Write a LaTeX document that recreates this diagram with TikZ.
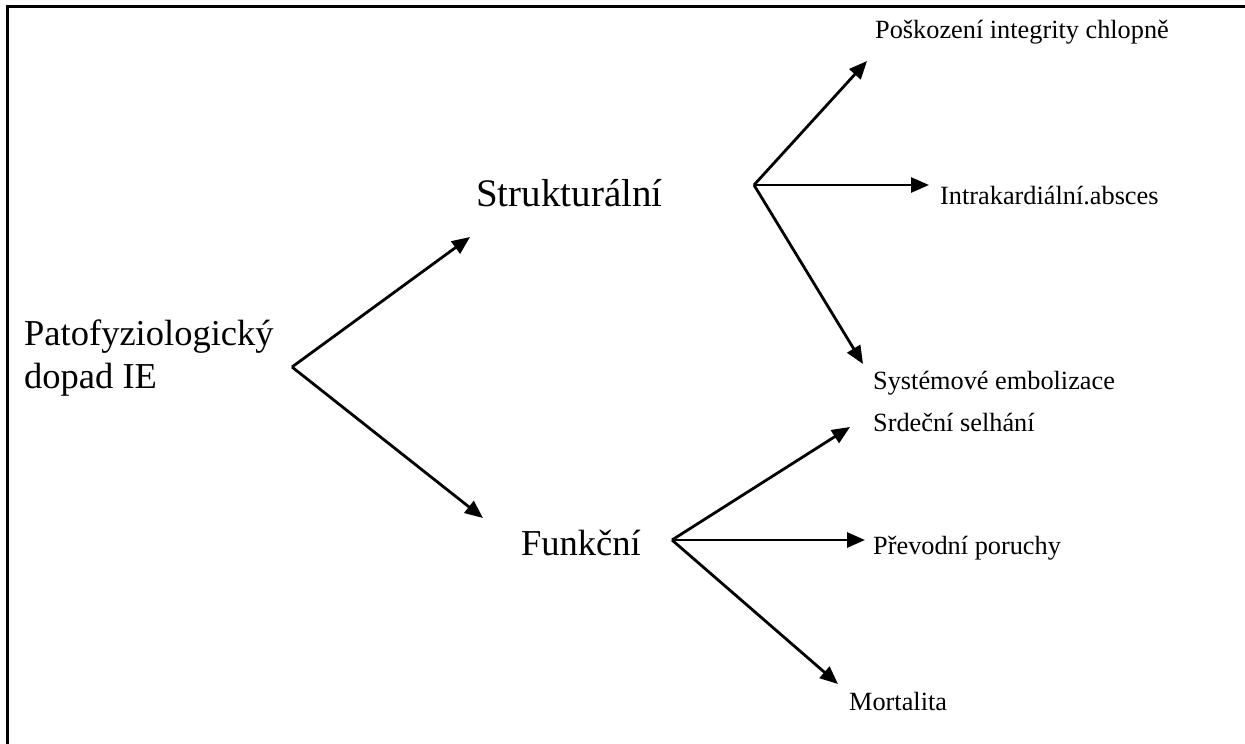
\documentclass[tikz,border=0pt]{standalone}
\usepackage{fontspec}
\setmainfont{Liberation Serif}
\usetikzlibrary{arrows.meta}
\begin{document}
\begin{tikzpicture}[x=1pt,y=-1pt,
  big/.style={anchor=base west,inner sep=0pt,font=\fontsize{36.5}{43}\selectfont,align=left},
  small/.style={anchor=base west,inner sep=0pt,font=\fontsize{26.3}{30}\selectfont},
  arr/.style={line width=2.8pt,-{Triangle[length=18pt,width=15pt]}},
  frame/.style={line width=2.8pt}]
\useasboundingbox (0,0) rectangle (1245,744);
\draw[frame] (7.5,744) -- (7.5,6.8) -- (1245,6.8);
% main nodes
\node[big] (p) at (24,388) {Patofyziologický\\dopad IE};
\node[big,font=\fontsize{39}{45}\selectfont] (s) at (476,206) {Strukturální};
\node[big] (f) at (521,555) {Funkční};
% leaves
\node[small] (s1) at (875,38) {Poškození integrity chlopně};
\node[small] (s2) at (940,204) {Intrakardiální.absces};
\node[small] (s3) at (873,389) {Systémové embolizace};
\node[small] (f1) at (873,431) {Srdeční selhání};
\node[small] (f2) at (873,554) {Převodní poruchy};
\node[small] (f3) at (849,710) {Mortalita};
% hubs and tips
\coordinate (ph) at (292,367);
\coordinate (pt1) at (470,237);
\coordinate (pt2) at (483,518);
\coordinate (sh) at (754,185);
\coordinate (st1) at (867,61);
\coordinate (st2) at (929,185);
\coordinate (st3) at (863,364);
\coordinate (fh) at (672,540);
\coordinate (ft1) at (850,427);
\coordinate (ft2) at (865,540);
\coordinate (ft3) at (838,684);
\draw[arr] (ph) -- (pt1);
\draw[arr] (ph) -- (pt2);
\draw[arr] (sh) -- (st1);
\draw[arr] (sh) -- (st2);
\draw[arr] (sh) -- (st3);
\draw[arr] (fh) -- (ft1);
\draw[arr] (fh) -- (ft2);
\draw[arr] (fh) -- (ft3);
\end{tikzpicture}
\end{document}
